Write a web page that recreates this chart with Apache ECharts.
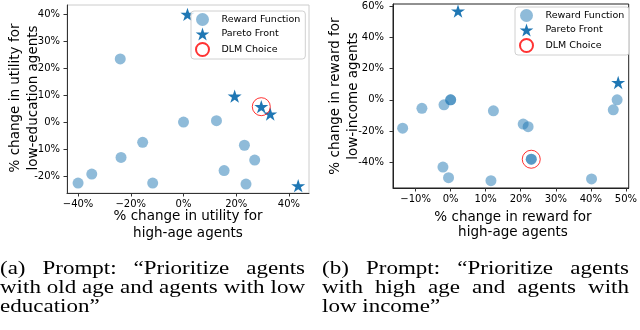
<!DOCTYPE html>
<html>
<head>
<meta charset="utf-8">
<script src="https://cdn.jsdelivr.net/npm/echarts@6/dist/echarts.min.js"></script>
<style>
  html, body { margin: 0; padding: 0; background: #fff; }
  #chart { width: 640px; height: 330px; }
</style>
</head>
<body>
<div id="chart"></div>
<script>
// (a) old age / low education
const leftReward = [[-40, -22.6], [-34.8, -19.3], [-24, 23.4], [-23.7, -13.1], [-15.5, -7.5], [-11.7, -22.6],
  [0, 0], [12.5, 0.5], [15.4, -18], [23.1, -8.6], [27, -14.1], [23.7, -23]];
const leftPareto = [[1.5, 39.9], [19.4, 9.6], [29.5, 5.7], [32.9, 3], [43.5, -23.6]];
const leftChoice = [[29.5, 5.7]];
const leftXTicks = [-40, -20, 0, 20, 40];
const leftYTicks = [-20, -10, 0, 10, 20, 30, 40];

// (b) high age / low income
const rightReward = [[-13.7, -18.1], [-8.2, -5.4], [-1.9, -3.2], [0, 0], [0, 0], [12.2, -7], [20.7, -15.5],
  [22.1, -17.2], [23, -38], [23, -38], [-2.2, -43], [-0.6, -49.8], [11.5, -51.7], [40.2, -50.6],
  [46.4, -6.4], [47.5, 0]];
const rightPareto = [[2.1, 56.8], [47.8, 11.1]];
const rightChoice = [[23, -38]];
const rightXTicks = [-10, 0, 10, 20, 30, 40, 50];
const rightYTicks = [-40, -20, 0, 20, 40, 60];

const captionA = ['(a) Prompt: \u201cPrioritize agents', 'with old age and agents with low', 'education\u201d'];
const captionB = ['(b) Prompt: \u201cPrioritize agents', 'with high age and agents with', 'low income\u201d'];

const blue = '#1f77b4';
const star = 'path://M0,-10 L2.245,-3.09 L9.511,-3.09 L3.633,1.18 L5.878,8.09 L0,3.82 L-5.878,8.09 L-3.633,1.18 L-9.511,-3.09 L-2.245,-3.09 Z';
const sans = 'DejaVu Sans';
const capFont = '"Liberation Serif"';
const capSize = 23;

let myChart = echarts.init(document.getElementById('chart'), null, { renderer: 'canvas' });

function pct(v) { return (v < 0 ? '\u2212' : '') + Math.abs(v) + '%'; }
function pctY(v) { return v + '%'; }

function makeAxis(idx, min, max, ticks, fmt, margin, lineColor) {
    return {
        gridIndex: idx, type: 'value', min: min, max: max,
        splitLine: { show: false },
        axisLine: { show: true, onZero: false, lineStyle: { color: lineColor, width: 1 } },
        axisTick: { show: true, inside: false, length: 3.5, customValues: ticks, lineStyle: { color: '#333' } },
        axisLabel: { customValues: ticks, formatter: fmt, margin: margin, fontFamily: sans, fontSize: 10, color: '#000' }
    };
}

function makeSeries(idx, reward, pareto, choice) {
    return [
        { name: 'Reward Function', type: 'scatter', xAxisIndex: idx, yAxisIndex: idx, data: reward,
          symbol: 'circle', symbolSize: 11, itemStyle: { color: blue, opacity: 0.5 }, z: 2 },
        { name: 'Pareto Front', type: 'scatter', xAxisIndex: idx, yAxisIndex: idx, data: pareto,
          symbol: star, symbolKeepAspect: true, symbolSize: 14, itemStyle: { color: blue, opacity: 1 }, z: 3 },
        { name: 'DLM Choice', type: 'scatter', xAxisIndex: idx, yAxisIndex: idx, data: choice,
          symbol: 'circle', symbolSize: 18, itemStyle: { color: 'rgba(0,0,0,0)', borderColor: '#ff0000', borderWidth: 1 }, z: 4 }
    ];
}

function makeLegend(left, top) {
    return {
        orient: 'vertical', left: left, top: top,
        data: ['Reward Function', 'Pareto Front', 'DLM Choice'],
        itemWidth: 14, itemHeight: 13, itemGap: 1.5,
        padding: [2, 5, 2, 4],
        borderColor: '#d0d0d0', borderWidth: 1, borderRadius: 3,
        backgroundColor: 'rgba(255,255,255,0.8)',
        selectedMode: false,
        textStyle: { fontFamily: sans, fontSize: 9.5, color: '#000', padding: [0, 0, 0, 7] }
    };
}

// 两行的坐标轴标题
function titleText(x, y, text, rot) {
    return { type: 'text', x: x, y: y, rotation: rot || 0, z: 10,
             style: { text: text, font: '13.5px "' + sans + '"', fill: '#000', align: 'center', verticalAlign: 'middle' } };
}

// 两端对齐的图注
const measureCtx = document.createElement('canvas').getContext('2d');
measureCtx.font = capSize + 'px ' + capFont;
function captionGraphics(lines, x0, x1, ys) {
    let out = [];
    lines.forEach((line, i) => {
        let words = line.split(' ');
        let last = i === lines.length - 1;
        let widths = words.map(w => measureCtx.measureText(w).width);
        let total = widths.reduce((a, b) => a + b, 0);
        let gap = last ? measureCtx.measureText(' ').width : (x1 - x0 - total) / (words.length - 1);
        let x = x0;
        words.forEach((w, k) => {
            out.push({ type: 'text', x: x, y: ys[i], z: 10, scaleY: 0.86,
                       style: { text: w, font: capSize + 'px ' + capFont, fill: '#000', align: 'left', verticalAlign: 'middle' } });
            x += widths[k] + gap;
        });
    });
    return out;
}

let graphics = [
    titleText(188, 216, '% change in utility for'),
    titleText(188, 233, 'high-age agents'),
    titleText(15, 98, '% change in utility for', Math.PI / 2),
    titleText(33, 98, 'low-education agents', Math.PI / 2),
    titleText(513, 217, '% change in reward for'),
    titleText(513, 232, 'high-age agents'),
    titleText(335, 96, '% change in reward for', Math.PI / 2),
    titleText(353, 96, 'low-income agents', Math.PI / 2)
];
graphics = graphics.concat(captionGraphics(captionA, 0, 305, [269, 288, 307]));
graphics = graphics.concat(captionGraphics(captionB, 322, 629, [269, 288, 307]));

let option = {
    animation: false,
    backgroundColor: '#fff',
    grid: [
        { left: 67, top: 5, width: 242, height: 188, show: true, borderColor: '#cccccc', borderWidth: 1, backgroundColor: 'transparent' },
        { left: 393, top: 4, width: 240, height: 184, show: true, borderColor: '#222', borderWidth: 1, backgroundColor: 'transparent' }
    ],
    xAxis: [
        makeAxis(0, -44.2, 47.6, leftXTicks, pct, 6, '#333'),
        makeAxis(1, -16.45, 50.8, rightXTicks, pct, 6, '#222')
    ],
    yAxis: [
        makeAxis(0, -26.3, 43.4, leftYTicks, pctY, 7, '#333'),
        makeAxis(1, -56.4, 61.3, rightYTicks, pctY, 9, '#222')
    ],
    legend: [makeLegend(191, 11), makeLegend(515, 7)],
    series: makeSeries(0, leftReward, leftPareto, leftChoice).concat(makeSeries(1, rightReward, rightPareto, rightChoice)),
    graphic: graphics
};
myChart.setOption(option);
</script>
</body>
</html>
